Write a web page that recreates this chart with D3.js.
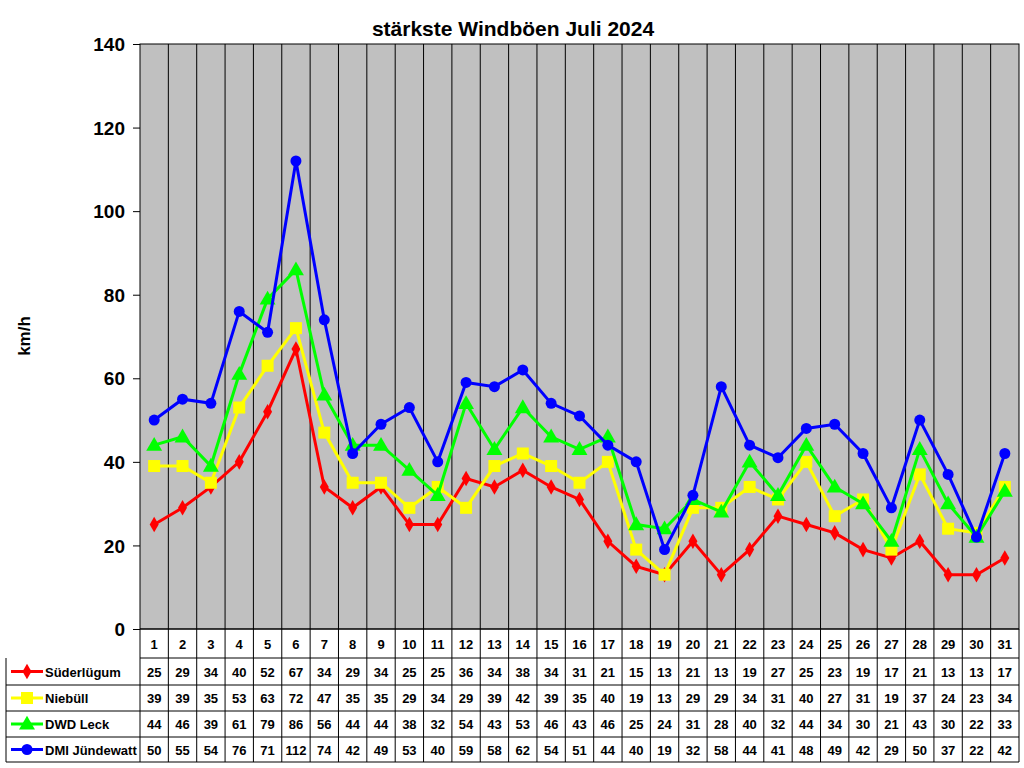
<!DOCTYPE html>
<html><head><meta charset="utf-8">
<script src="https://cdn.jsdelivr.net/npm/d3@7"></script>
<style>body{margin:0;background:#fff}text{font-family:Arial,"Liberation Sans",sans-serif;font-weight:bold}</style>
</head><body><div id="chart"></div>
<script>
var days = d3.range(1,32)
var names = ["Süderlügum","Niebüll","DWD Leck","DMI Jündewatt"]
var colors = ["#ff0000","#ffff00","#00ff00","#0000ff"]
var suder = [25,29,34,40,52,67,34,29,34,25,25,36,34,38,34,31,21,15,13,21,13,19,27,25,23,19,17,21,13,13,17]
var niebuell = [39,39,35,53,63,72,47,35,35,29,34,29,39,42,39,35,40,19,13,29,29,34,31,40,27,31,19,37,24,23,34]
var leck = [44,46,39,61,79,86,56,44,44,38,32,54,43,53,46,43,46,25,24,31,28,40,32,44,34,30,21,43,30,22,33]
var juende = [50,55,54,76,71,112,74,42,49,53,40,59,58,62,54,51,44,40,19,32,58,44,41,48,49,42,29,50,37,22,42]
var series = [suder,niebuell,leck,juende]
var yTicks = [0,20,40,60,80,100,120,140]

var W=1024,H=768, L=140, R=1019, T=44, B=629
var svg = d3.select("#chart").append("svg").attr("width",W).attr("height",H)
var x = d3.scaleBand().domain(days).range([L,R])
var y = d3.scaleLinear().domain([0,140]).range([B,T])

svg.append("rect").attr("x",L).attr("y",T).attr("width",R-L).attr("height",B-T).attr("fill","#c0c0c0").attr("stroke","#000")
svg.selectAll(".vg").data(days.slice(1)).enter().append("line")
	.attr("x1",function(d){return x(d)}).attr("x2",function(d){return x(d)})
	.attr("y1",T).attr("y2",B).attr("stroke","#000")

var yAxis = svg.append("g").attr("transform","translate("+L+",0)")
	.call(d3.axisLeft(y).tickValues(yTicks).tickSize(7).tickPadding(8))
yAxis.select(".domain").remove()
yAxis.selectAll("text").style("font-size","19px").attr("dy","0.35em")
svg.append("text").text("km/h").attr("transform","translate(30,336) rotate(-90)").attr("text-anchor","middle").style("font-size","17px")
svg.append("text").text("stärkste Windböen Juli 2024").attr("x",513).attr("y",36).attr("text-anchor","middle").style("font-size","21px")

// table
var rowY = [629,658,685,711,737,762]
var tg = svg.append("g")
tg.append("line").attr("x1",L).attr("x2",R).attr("y1",rowY[0]).attr("y2",rowY[0]).attr("stroke","#000")
for(var i=1;i<rowY.length;i++){
	tg.append("line").attr("x1",i==1?L:6).attr("x2",R).attr("y1",rowY[i]).attr("y2",rowY[i]).attr("stroke","#000")
}
tg.append("line").attr("x1",6).attr("x2",6).attr("y1",rowY[1]).attr("y2",rowY[5]).attr("stroke","#000")
days.concat([32]).forEach(function(d){
	var xx = d==32?R:x(d)
	tg.append("line").attr("x1",xx).attr("x2",xx).attr("y1",rowY[0]).attr("y2",rowY[5]).attr("stroke","#000")
})
tg.selectAll(".dl").data(days).enter().append("text")
	.attr("x",function(d){return x(d)+x.bandwidth()/2}).attr("y",(rowY[0]+rowY[1])/2+5)
	.attr("text-anchor","middle").style("font-size","13px").text(function(d){return d})

function marker(g,k,cx,cy,c){
	if(k==0) g.append("path").attr("d",d3.symbol(d3.symbolDiamond,70)()).attr("transform","translate("+cx+","+cy+")").attr("fill",c)
	else if(k==1) g.append("rect").attr("x",cx-6).attr("y",cy-6).attr("width",12).attr("height",12).attr("fill",c)
	else if(k==2) g.append("path").attr("d",d3.symbol(d3.symbolTriangle,110)()).attr("transform","translate("+cx+","+(cy+1)+")").attr("fill",c)
	else g.append("circle").attr("cx",cx).attr("cy",cy).attr("r",5.5).attr("fill",c)
}

series.forEach(function(vals,k){
	var ry = (rowY[k+1]+rowY[k+2])/2
	var lg = tg.append("g")
	lg.append("line").attr("x1",11).attr("x2",43).attr("y1",ry).attr("y2",ry).attr("stroke",colors[k]).attr("stroke-width",3)
	marker(lg,k,27,ry,colors[k])
	lg.append("text").text(names[k]).attr("x",45).attr("y",ry+5).style("font-size","13px")
	tg.selectAll(".v"+k).data(vals).enter().append("text")
		.attr("x",function(d,i){return x(days[i])+x.bandwidth()/2}).attr("y",ry+5)
		.attr("text-anchor","middle").style("font-size","13px").text(function(d){return d})
})

// lines
var line = d3.line().x(function(d,i){return x(days[i])+x.bandwidth()/2}).y(function(d){return y(d)})
series.forEach(function(vals,k){
	var g = svg.append("g")
	g.append("path").attr("d",line(vals)).attr("fill","none").attr("stroke",colors[k]).attr("stroke-width",3)
	vals.forEach(function(v,i){ marker(g,k,x(days[i])+x.bandwidth()/2,y(v),colors[k]) })
})
</script></body></html>
